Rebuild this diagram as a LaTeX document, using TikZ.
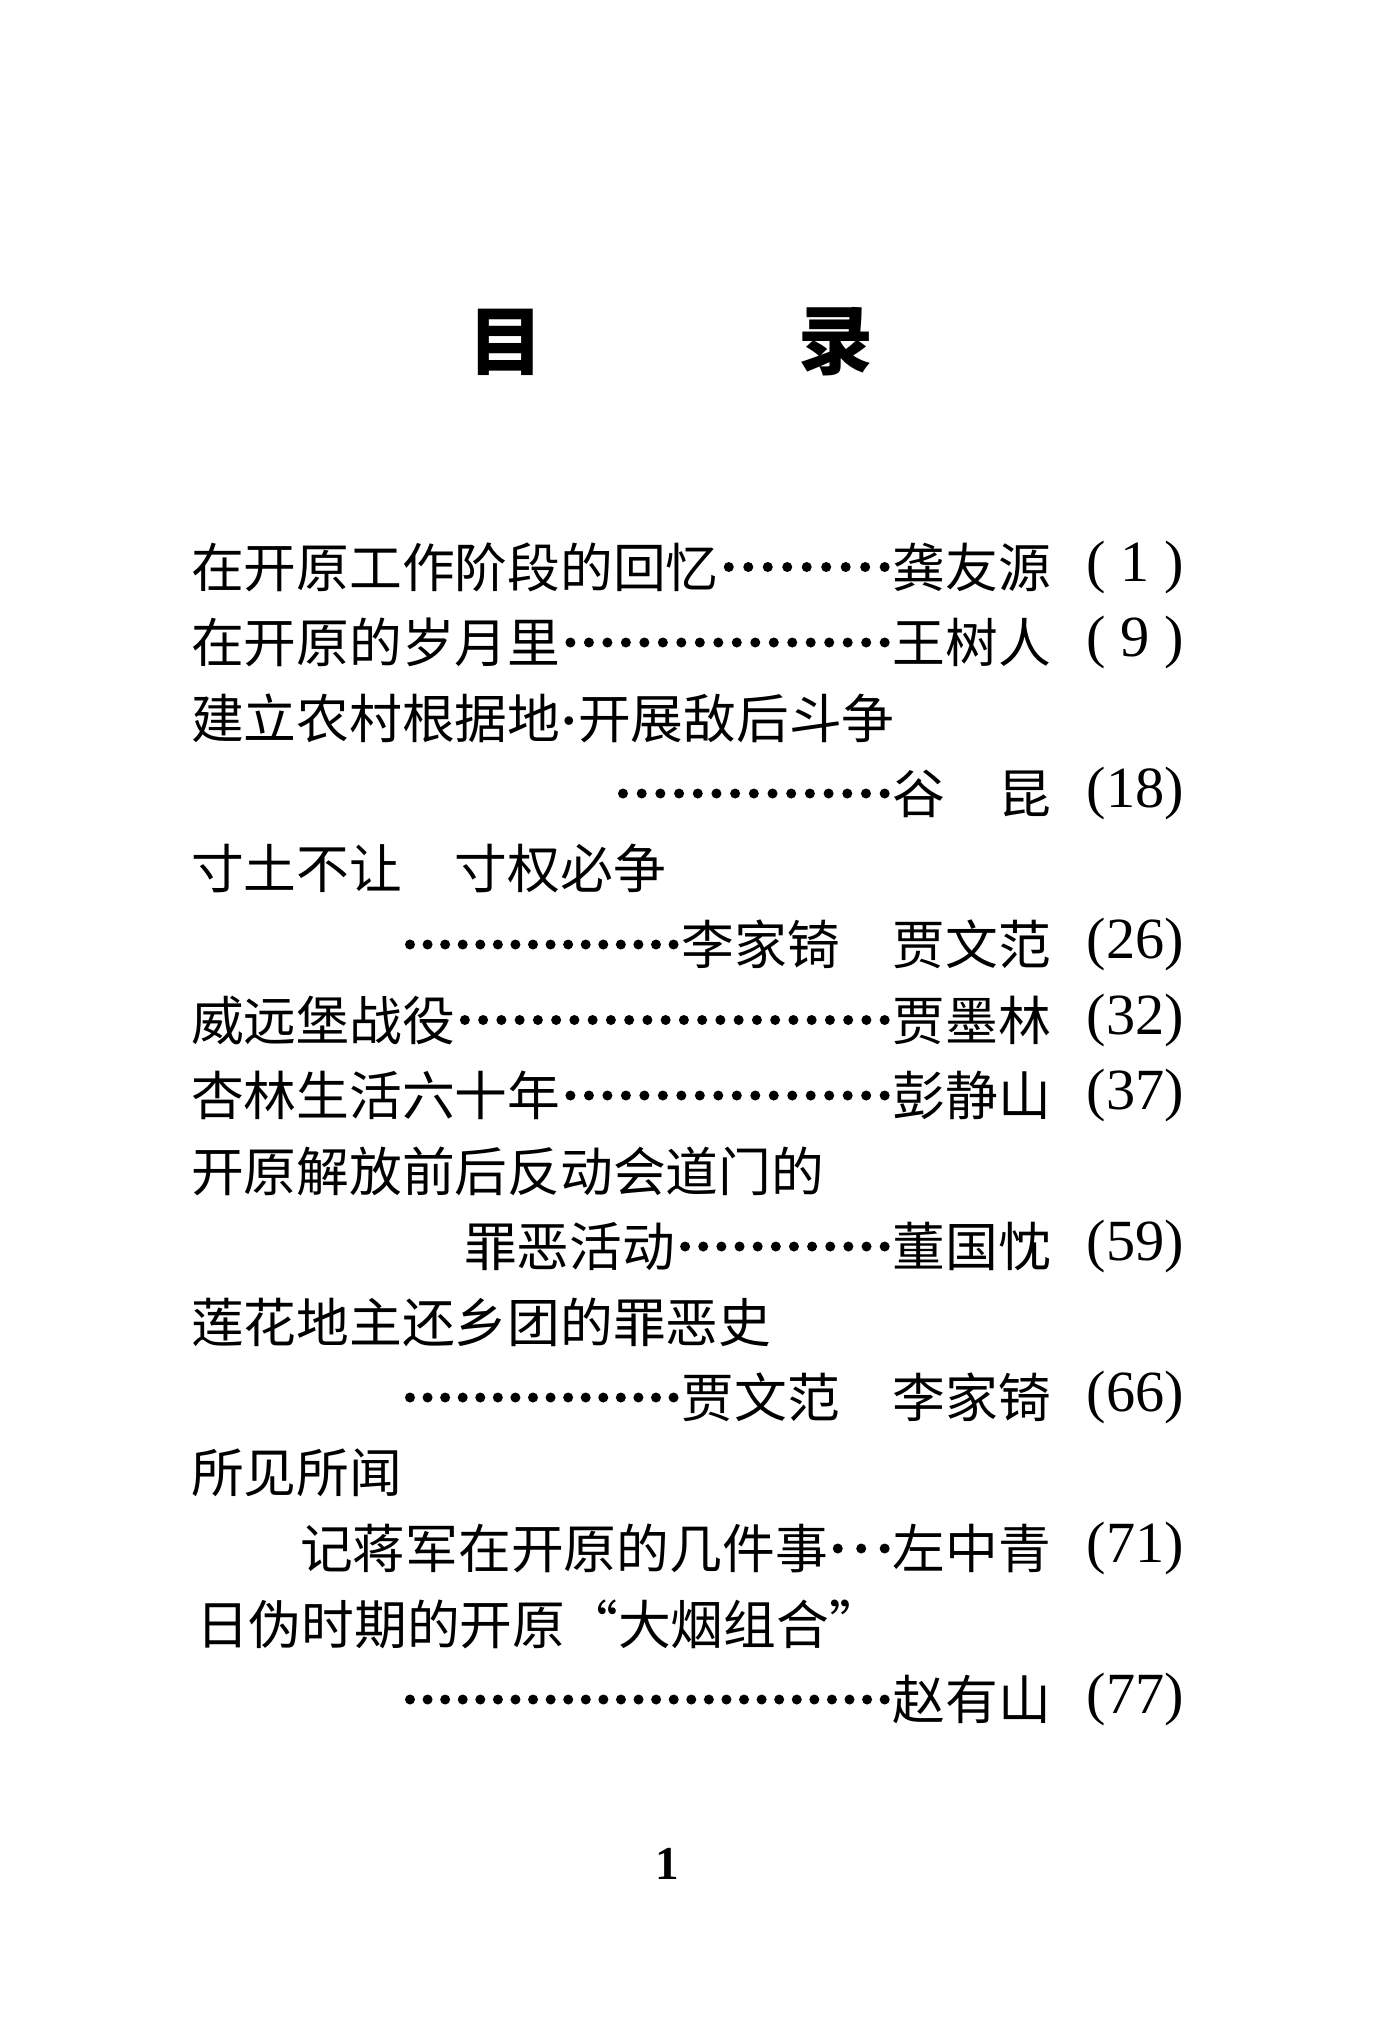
\documentclass[tikz,border=0pt]{standalone}
\usepackage{fontspec}
\newfontfamily\cjk{Noto Sans CJK SC}
\newfontfamily\numfont{Liberation Serif}
\usepackage{tikz}
\usetikzlibrary{calc,positioning,decorations}

\begin{document}
\begin{tikzpicture}[x=0.36pt, y=-0.36pt]
    \tikzset{
        every node/.style={inner sep=0pt, outer sep=0pt},
        heading/.style={font=\cjk\bfseries\fontsize{27pt}{27pt}\selectfont},
        entry/.style={anchor=west, font=\cjk\fontsize{19pt}{19pt}\selectfont},
        author/.style={anchor=east, font=\cjk\fontsize{19pt}{19pt}\selectfont},
        pagenum/.style={anchor=east, font=\numfont\fontsize{21pt}{21pt}\selectfont},
        leader/.style={draw, line width=3.6pt, line cap=round, dash pattern=on 0pt off 6.3pt, dash expand off},
    }
    \useasboundingbox[fill=white] (0,0) rectangle (1393,2039);

    \node[heading] (head1) at (506,342) {目};
    \node[heading] (head2) at (836,342) {录};

    \node[entry] (item1) at (191,567) {在开原工作阶段的回忆};
    \node[author] (auth1) at (1051,567) {龚友源};
    \node[pagenum] (page1) at (1184,567) {(\hspace{0.25em}1\hspace{0.25em})};

    \node[entry] (item2) at (191,642.5) {在开原的岁月里};
    \node[author] (auth2) at (1051,642.5) {王树人};
    \node[pagenum] (page2) at (1184,642.5) {(\hspace{0.25em}9\hspace{0.25em})};

    \node[entry] (item3) at (191,718) {建立农村根据地{\numfont\bfseries ·}开展敌后斗争};
    \coordinate (AuxNode04) at (623,793.5);
    \node[author] (auth4) at (1051,793.5) {谷　昆};
    \node[pagenum] (page4) at (1184,793.5) {(18)};

    \node[entry] (item5) at (191,869) {寸土不让　寸权必争};
    \coordinate (AuxNode06) at (410,944.5);
    \node[author] (auth6) at (1051,944.5) {李家锜　贾文范};
    \node[pagenum] (page6) at (1184,944.5) {(26)};

    \node[entry] (item7) at (191,1020) {威远堡战役};
    \node[author] (auth7) at (1051,1020) {贾墨林};
    \node[pagenum] (page7) at (1184,1020) {(32)};

    \node[entry] (item8) at (191,1095.5) {杏林生活六十年};
    \node[author] (auth8) at (1051,1095.5) {彭静山};
    \node[pagenum] (page8) at (1184,1095.5) {(37)};

    \node[entry] (item9) at (191,1171) {开原解放前后反动会道门的};
    \node[entry] (item10) at (464,1246.5) {罪恶活动};
    \node[author] (auth10) at (1051,1246.5) {董国忱};
    \node[pagenum] (page10) at (1184,1246.5) {(59)};

    \node[entry] (item11) at (191,1322) {莲花地主还乡团的罪恶史};
    \coordinate (AuxNode12) at (410,1397.5);
    \node[author] (auth12) at (1051,1397.5) {贾文范　李家锜};
    \node[pagenum] (page12) at (1184,1397.5) {(66)};

    \node[entry] (item13) at (191,1473) {所见所闻};
    \node[entry] (item14) at (300,1548.5) {记蒋军在开原的几件事};
    \node[author] (auth14) at (1051,1548.5) {左中青};
    \node[pagenum] (page14) at (1184,1548.5) {(71)};

    \node[entry] (item15) at (196,1624) {日伪时期的开原“大烟组合”};
    \coordinate (AuxNode16) at (410,1699.5);
    \node[author] (auth16) at (1051,1699.5) {赵有山};
    \node[pagenum] (page16) at (1184,1699.5) {(77)};

    \node[font=\numfont\bfseries\fontsize{17pt}{17pt}\selectfont] (folio) at (667,1864) {1};

    % leaders
    \path[leader] ($(item1.east)+(10,0)$) -- ($(auth1.west)+(-8,0)$);
    \path[leader] ($(item2.east)+(10,0)$) -- ($(auth2.west)+(-8,0)$);
    \path[leader] (AuxNode04) -- ($(auth4.west)+(-8,0)$);
    \path[leader] (AuxNode06) -- ($(auth6.west)+(-8,0)$);
    \path[leader] ($(item7.east)+(10,0)$) -- ($(auth7.west)+(-8,0)$);
    \path[leader] ($(item8.east)+(10,0)$) -- ($(auth8.west)+(-8,0)$);
    \path[leader] ($(item10.east)+(10,0)$) -- ($(auth10.west)+(-8,0)$);
    \path[leader] (AuxNode12) -- ($(auth12.west)+(-8,0)$);
    \path[leader] ($(item14.east)+(10,0)$) -- ($(auth14.west)+(-8,0)$);
    \path[leader] (AuxNode16) -- ($(auth16.west)+(-8,0)$);
\end{tikzpicture}
\end{document}
